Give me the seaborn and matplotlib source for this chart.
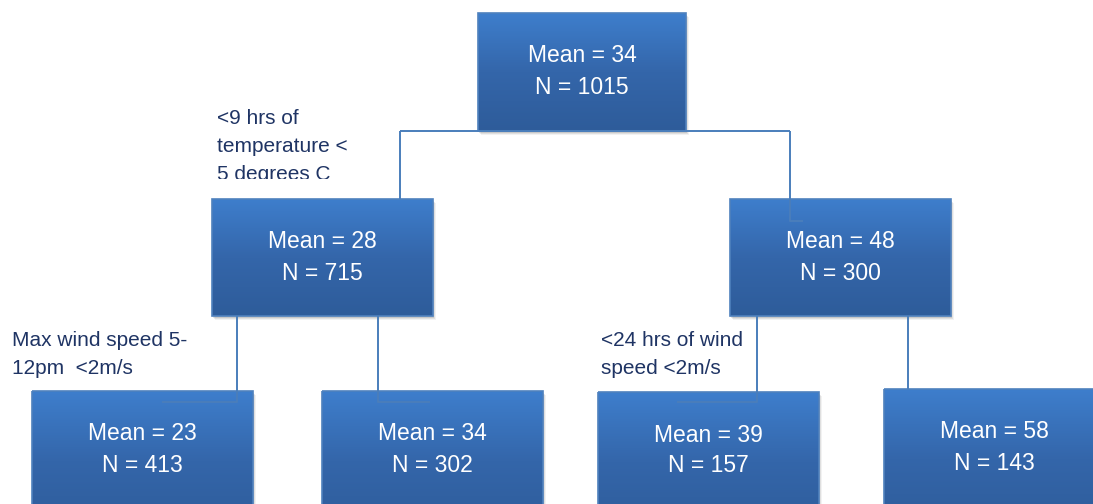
import numpy as np
import matplotlib
matplotlib.use("Agg")
import matplotlib.pyplot as plt
from matplotlib.patches import Rectangle
import seaborn as sns

# ---- data ----
means = [34, 28, 48, 23, 34, 39, 58]
counts = [1015, 715, 300, 413, 302, 157, 143]
split_labels = [
    ["<9 hrs of", "temperature <", "5 degrees C"],
    ["Max wind speed 5-", "12pm  <2m/s"],
    ["<24 hrs of wind", "speed <2m/s"],
]

# ---- layout (pixel space) ----
box_left = [478, 212, 730, 32, 322, 598, 884]
box_top = [13, 199, 199, 391, 391, 392, 389]
box_w = [208, 221, 221, 221, 221, 221, 221]
box_h = [118, 117, 117, 140, 140, 140, 140]
label_x = [217, 12, 601]
label_y0 = [118, 341, 340]
label_dy = 28

sns.set_theme(style="white")
plt.rcParams["font.family"] = ["Liberation Sans", "DejaVu Sans"]

fig = plt.figure(figsize=(10.93, 5.04), dpi=100)
ax = fig.add_axes([0, 0, 1, 1])
ax.axis("off")

cmap = sns.blend_palette(["#3E7ECC", "#3466AA", "#2E5C9A"], as_cmap=True)
grad = np.linspace(0, 1, 200)[:, None]
line_col = "#4A7EBB"

for i in range(len(means)):
    x0, y0, w, h = box_left[i], box_top[i], box_w[i], box_h[i]
    # soft shadow
    for k, a in enumerate([0.10, 0.08, 0.05]):
        ax.add_patch(Rectangle((x0 + 1 + k, y0 + 2 + k), w, h, facecolor="#000000",
                               alpha=a, edgecolor="none", zorder=1))
    ax.imshow(grad, extent=(x0, x0 + w, y0 + h, y0), cmap=cmap,
              aspect="auto", origin="upper", zorder=2)
    ax.add_patch(Rectangle((x0, y0), w, h, facecolor="none",
                           edgecolor="#4F81BD", lw=1.2, zorder=3))
    cx = x0 + w / 2
    ax.text(cx, y0 + 43, f"Mean = {means[i]}", color="white", fontsize=16.5,
            ha="center", va="center", zorder=5)
    ax.text(cx, y0 + 74, f"N = {counts[i]}", color="white", fontsize=16.5,
            ha="center", va="center", zorder=5)

# connectors
paths = [
    ([400, 790], [131, 131]),
    ([400, 400], [131, 199]),
    ([790, 790, 803], [131, 221, 221]),
    ([237, 237, 162], [316, 402, 402]),
    ([378, 378, 430], [316, 402, 402]),
    ([757, 757, 677], [316, 402, 402]),
    ([908, 908], [316, 389]),
]
for xs, ys in paths:
    ax.plot(xs, ys, color=line_col, lw=1.4, zorder=4, solid_capstyle="butt")

# split labels
for lab, lx, ly in zip(split_labels, label_x, label_y0):
    for j, line in enumerate(lab):
        ax.text(lx, ly + j * label_dy, line, color="#1F3464", fontsize=15,
                ha="left", va="center", zorder=6)

# mask that cuts the third line of the first label
ax.add_patch(Rectangle((205, 179), 150, 19, facecolor="white",
                       edgecolor="none", zorder=7))

ax.set_xlim(0, 1093)
ax.set_ylim(504, 0)
fig.savefig("out.png", dpi=100)
